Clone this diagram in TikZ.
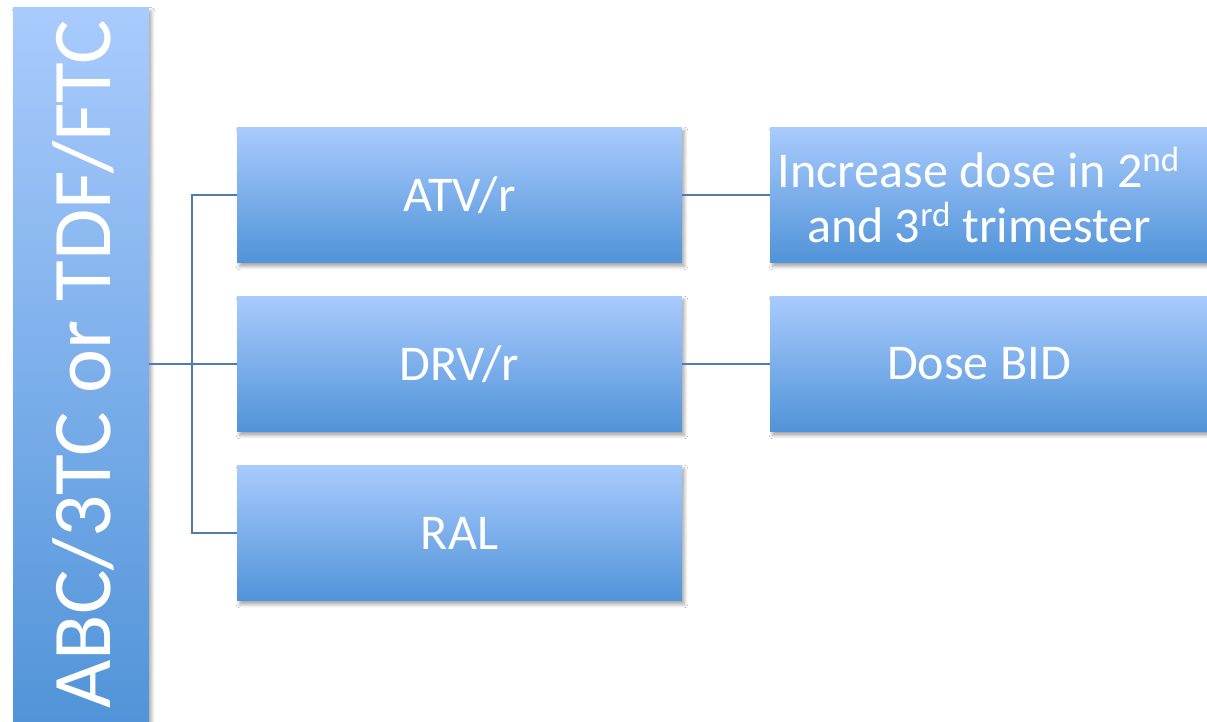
\documentclass[tikz,border=0pt]{standalone}
\usepackage{fontspec}
\setmainfont{Carlito}
\usetikzlibrary{shadows.blur}
\definecolor{boxtop}{RGB}{169,203,253}
\definecolor{boxbot}{RGB}{80,147,216}
\definecolor{linkblue}{RGB}{80,123,172}
\tikzset{
  box/.style={rectangle, top color=boxtop, bottom color=boxbot, minimum width=8.9cm,
    minimum height=2.72cm, inner sep=0pt, text=white, align=center,
    font=\fontsize{28.5}{31.5}\selectfont,
    blur shadow={shadow xshift=0.05cm, shadow yshift=-0.07cm, shadow blur steps=6, shadow opacity=35}},
  boxtext/.style={text=white, align=center, font=\fontsize{28.5}{31.5}\selectfont},
  link/.style={draw=linkblue, line width=1.2pt}
}
\begin{document}
\begin{tikzpicture}[x=0.02cm,y=-0.02cm]
  \useasboundingbox[fill=white] (0,0) rectangle (1207,721);
  \clip (0,0) rectangle (1207,721);

  \node[box, minimum width=2.72cm, minimum height=14.5cm] (reg) at (81,370) {};
  \node[boxtext, rotate=90, font=\fontsize{47.5}{50}\selectfont] (regtxt) at (83,364) {ABC/3TC or TDF/FTC};

  \node[box] (atv) at (459.5,195) {ATV/r};
  \node[box] (drv) at (459.5,364) {DRV/r};
  \node[box] (ral) at (459.5,533) {RAL};

  \node[box, label={[boxtext, xshift=-0.27cm]center:Increase dose in 2\textsuperscript{nd}\\and 3\textsuperscript{rd} trimester}] (inc) at (992.5,195) {};
  \node[box, label={[boxtext, xshift=-0.27cm]center:Dose BID}] (bid) at (992.5,364) {};

  \coordinate (fork) at (192,364);
  \draw[link] (reg.east |- fork) -- (fork);
  \draw[link] (fork) |- (atv.west);
  \draw[link] (fork) -- (drv.west);
  \draw[link] (fork) |- (ral.west);
  \draw[link] (atv.east) -- (inc.west);
  \draw[link] (drv.east) -- (bid.west);
\end{tikzpicture}
\end{document}
